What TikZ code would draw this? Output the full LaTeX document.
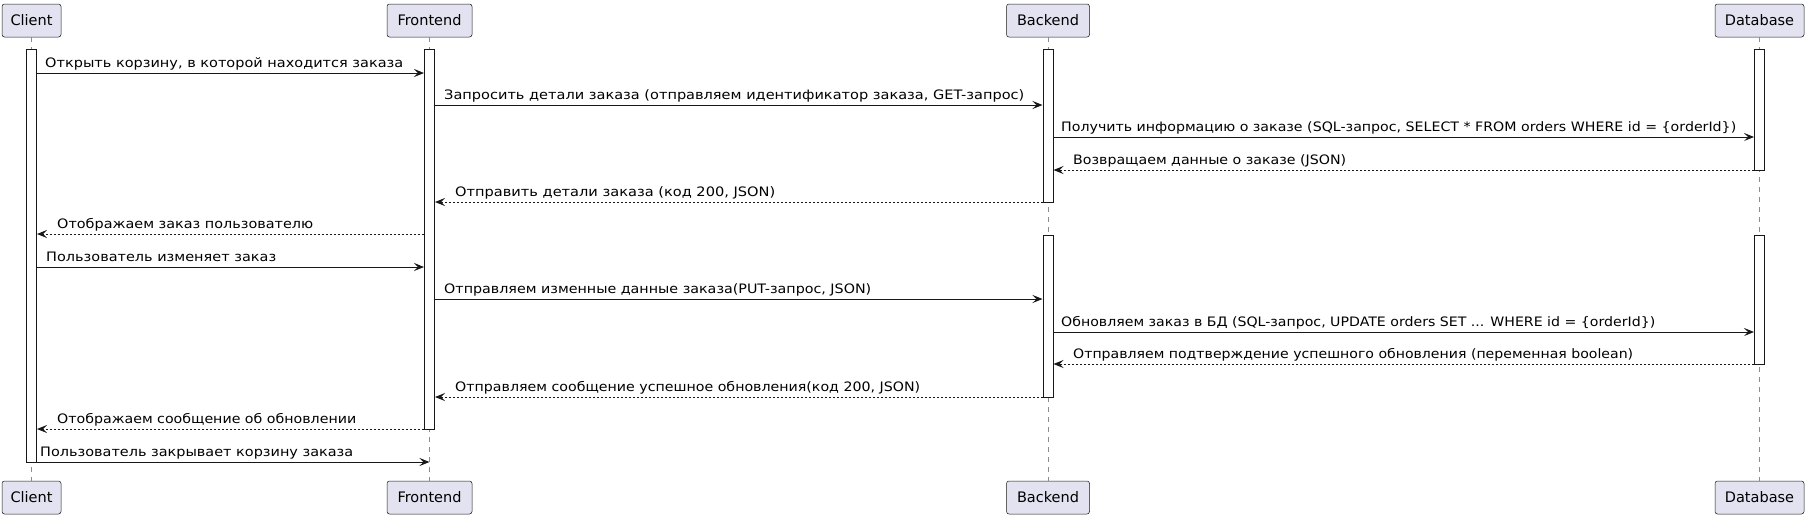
\documentclass[tikz,border=0pt]{standalone}
\usepackage{fontspec}
\usepackage{graphicx}
\usetikzlibrary{arrows.meta}
\newfontfamily\umlfont{DejaVu Sans}
\definecolor{partfill}{HTML}{E2E2F0}
\definecolor{linec}{HTML}{181818}
% message text squeezed to the width it has in the picture
\newcommand{\fitw}[2]{\resizebox{#1pt}{\height}{#2}}
\begin{document}
\begin{tikzpicture}[x=1pt,y=-1pt,
  part/.style={draw=linec,fill=partfill,rounded corners=2.5pt,line width=0.5pt,
    minimum height=33pt,inner xsep=0pt,font=\umlfont\fontsize{14.5}{17}\selectfont},
  act/.style={draw=linec,fill=white,line width=1pt,minimum width=10pt,inner sep=0pt},
  life/.style={draw=black!45,line width=0.6pt,dash pattern=on 5pt off 5pt},
  msg/.style={draw=linec,line width=1pt,-{Stealth[length=10pt,width=8pt,inset=4pt]}},
  reply/.style={msg,dash pattern=on 2pt off 2pt},
  lbl/.style={anchor=base west,inner sep=0pt,font=\umlfont\fontsize{13}{15}\selectfont}]
\useasboundingbox (0,0) rectangle (1808,523);
% participants
\node[part,minimum width=59pt] at (31.5,20.5) (client) {Client};
\node[part,minimum width=85pt] at (429.5,20.5) (frontend) {Frontend};
\node[part,minimum width=83pt] at (1048,20.5) (backend) {Backend};
\node[part,minimum width=89pt] at (1759.5,20.5) (database) {Database};
\node[part,minimum width=59pt] at (31.5,497.5) (clientb) {Client};
\node[part,minimum width=85pt] at (429.5,497.5) (frontendb) {Frontend};
\node[part,minimum width=83pt] at (1048,497.5) (backendb) {Backend};
\node[part,minimum width=89pt] at (1759.5,497.5) (databaseb) {Database};
\draw[life] (client) -- (clientb)
            (frontend) -- (frontendb)
            (backend) -- (backendb)
            (database) -- (databaseb);
% activations
\node[act,minimum height=413pt] at (31.5,255.5) (ca) {};
\node[act,minimum height=380pt] at (429.5,239) (fa) {};
\node[act,minimum height=153pt] at (1048,125.5) (ba1) {};
\node[act,minimum height=162pt] at (1048,316) (ba2) {};
\node[act,minimum height=121pt] at (1759.5,109.5) (da1) {};
\node[act,minimum height=129pt] at (1759.5,299.5) (da2) {};
% messages
\draw[msg] (ca.east |- 0,73) -- (fa.west |- 0,73);
\node[lbl] at (45,67) (m1) {\fitw{358}{Открыть корзину, в которой находится заказа}};
\draw[msg] (fa.east |- 0,105) -- (ba1.west |- 0,105);
\node[lbl] at (444,99) (m2) {\fitw{580}{Запросить детали заказа (отправляем идентификатор заказа, GET-запрос)}};
\draw[msg] (ba1.east |- 0,137) -- (da1.west |- 0,137);
\node[lbl] at (1061,131) (m3) {\fitw{675}{Получить информацию о заказе (SQL-запрос, SELECT * FROM orders WHERE id = \{orderId\})}};
\draw[reply] (da1.west |- 0,170) -- (ba1.east |- 0,170);
\node[lbl] at (1073,164) (m4) {\fitw{273}{Возвращаем данные о заказе (JSON)}};
\draw[reply] (ba1.west |- 0,202) -- (fa.east |- 0,202);
\node[lbl] at (455,196) (m5) {\fitw{320}{Отправить детали заказа (код 200, JSON)}};
\draw[reply] (fa.west |- 0,234) -- (ca.east |- 0,234);
\node[lbl] at (57,228) (m6) {\fitw{256}{Отображаем заказ пользователю}};
\draw[msg] (ca.east |- 0,267) -- (fa.west |- 0,267);
\node[lbl] at (46,261) (m7) {\fitw{230}{Пользователь изменяет заказ}};
\draw[msg] (fa.east |- 0,299) -- (ba2.west |- 0,299);
\node[lbl] at (444,293) (m8) {\fitw{427}{Отправляем изменные данные заказа(PUT-запрос, JSON)}};
\draw[msg] (ba2.east |- 0,332) -- (da2.west |- 0,332);
\node[lbl] at (1061,326) (m9) {\fitw{594}{Обновляем заказ в БД (SQL-запрос, UPDATE orders SET ... WHERE id = \{orderId\})}};
\draw[reply] (da2.west |- 0,364) -- (ba2.east |- 0,364);
\node[lbl] at (1073,358) (m10) {\fitw{560}{Отправляем подтверждение успешного обновления (переменная boolean)}};
\draw[reply] (ba2.west |- 0,397) -- (fa.east |- 0,397);
\node[lbl] at (455,391) (m11) {\fitw{465}{Отправляем сообщение успешное обновления(код 200, JSON)}};
\draw[reply] (fa.west |- 0,429) -- (ca.east |- 0,429);
\node[lbl] at (57,423) (m12) {\fitw{299}{Отображаем сообщение об обновлении}};
\draw[msg] (ca.east |- 0,462) -- (frontend.south |- 0,462);
\node[lbl] at (40,456) (m13) {\fitw{313}{Пользователь закрывает корзину заказа}};
\end{tikzpicture}
\end{document}
